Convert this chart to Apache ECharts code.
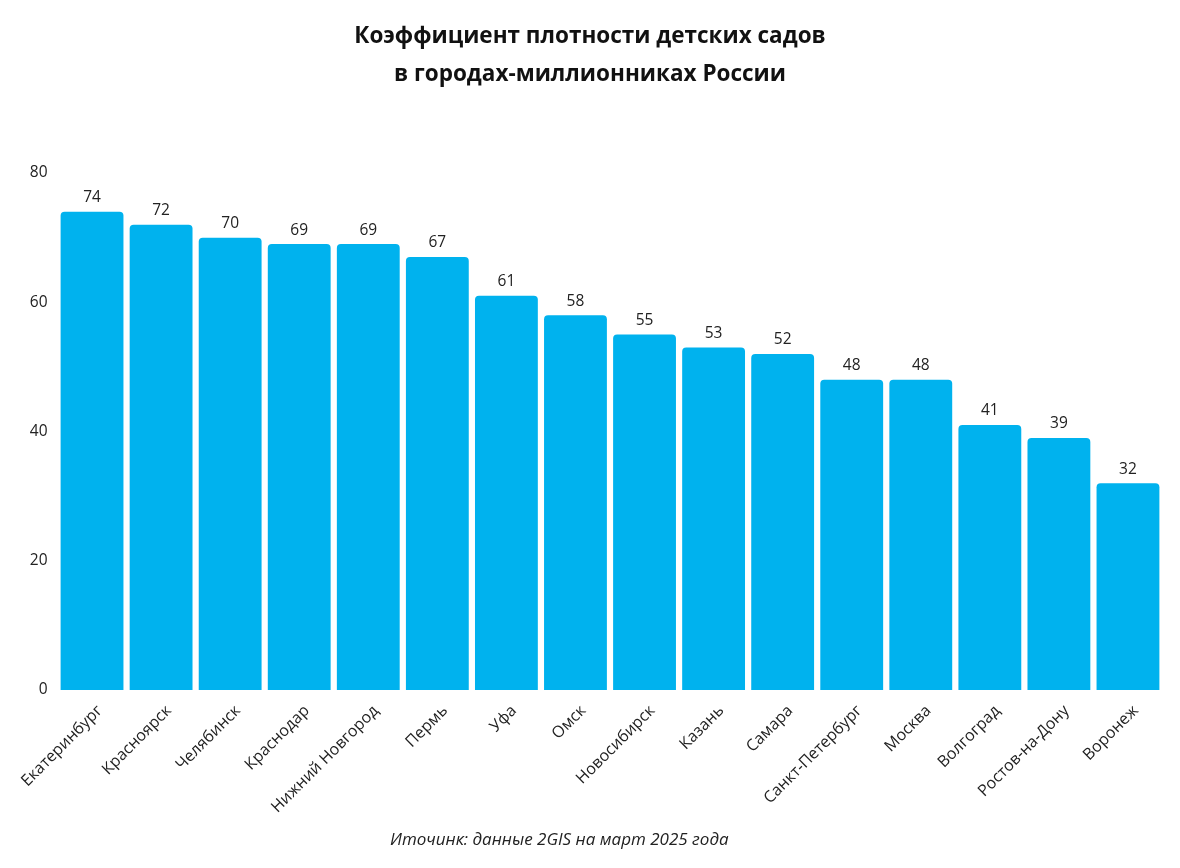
<!DOCTYPE html>
<html><head><meta charset="utf-8">
<script src="https://cdn.jsdelivr.net/npm/echarts@6/dist/echarts.min.js"></script>
<style>html,body{margin:0;padding:0;background:#fff}#c{width:1180px;height:868px}</style>
</head><body><div id="c"></div>
<script>
const categories = ['Екатеринбург','Красноярск','Челябинск','Краснодар','Нижний Новгород','Пермь','Уфа','Омск','Новосибирск','Казань','Самара','Санкт-Петербург','Москва','Волгоград','Ростов-на-Дону','Воронеж'];
const values = [74,72,70,69,69,67,61,58,55,53,52,48,48,41,39,32];
const yTicks = [0,20,40,60,80];
const titleLines = ['Коэффициент плотности детских садов','в городах-миллионниках России'];
const sourceText = 'Иточинк: данные 2GIS на март 2025 года';

const chart = echarts.init(document.getElementById('c'));
chart.setOption({
  backgroundColor:'#fff',
  textStyle:{fontFamily:'Open Sans'},
  title:[
    {text:titleLines.join('\n'),left:'center',top:13,textStyle:{fontFamily:'Open Sans',fontSize:22.5,fontWeight:'bold',color:'#111',lineHeight:38}},
    {text:sourceText,left:385,top:827,textStyle:{fontFamily:'Open Sans',fontSize:17,fontStyle:'italic',fontWeight:'normal',color:'#222'}}
  ],
  grid:{left:57.5,right:17.5,top:173,bottom:178,containLabel:false},
  xAxis:{type:'category',data:categories,
    axisLine:{show:false},axisTick:{show:false},
    axisLabel:{rotate:45,interval:0,fontSize:16,color:'#222',margin:26,padding:[0,-11,0,0]}},
  yAxis:{type:'value',min:yTicks[0],max:yTicks[yTicks.length-1],interval:20,
    splitLine:{show:false},axisLine:{show:false},axisTick:{show:false},
    axisLabel:{fontSize:15.5,color:'#222',margin:10,align:'right'}},
  series:[{type:'bar',data:values,barCategoryGap:'9%',
    itemStyle:{color:'#00B2EE',borderRadius:[4,4,0,0]},
    label:{show:true,position:'top',fontSize:15.5,color:'#222',distance:6}}]
});
</script></body></html>
